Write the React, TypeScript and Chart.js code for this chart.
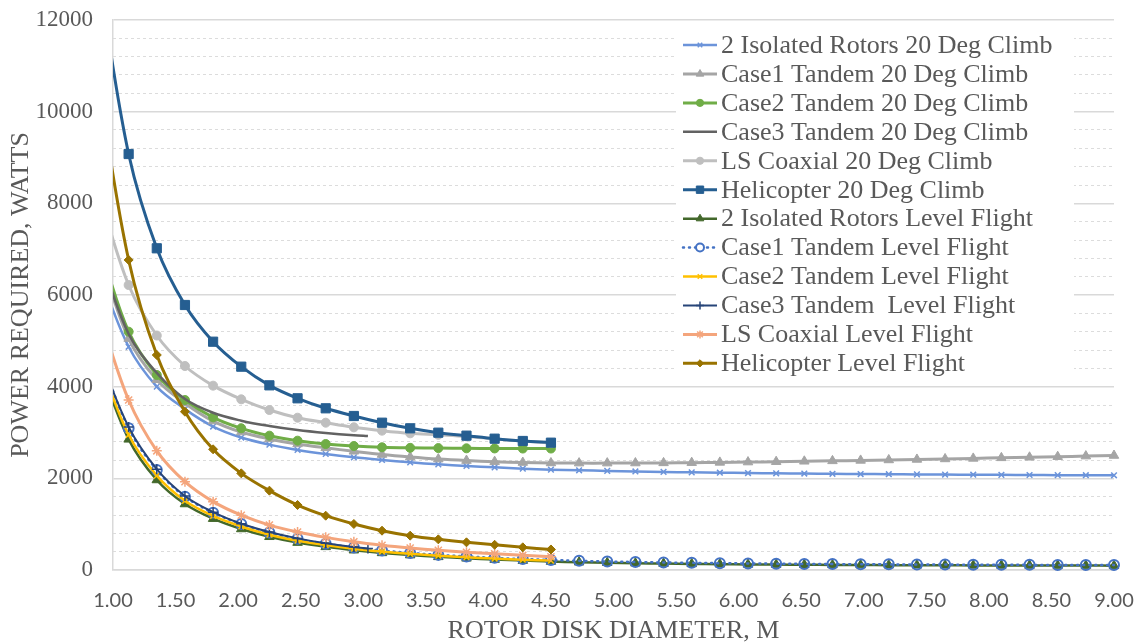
import React, { useEffect, useRef } from 'react';
import { Chart, registerables } from 'chart.js';
import { drawPoint } from 'chart.js/helpers';

Chart.register(...registerables);

// ---------- data ----------
const X_FULL = [0.9, 1.125, 1.35, 1.575, 1.8, 2.025, 2.25, 2.475, 2.7, 2.925, 3.15, 3.375, 3.6, 3.825, 4.05, 4.275, 4.5,
  4.725, 4.95, 5.175, 5.4, 5.625, 5.85, 6.075, 6.3, 6.525, 6.75, 6.975, 7.2, 7.425, 7.65, 7.875, 8.1, 8.325, 8.55, 8.775, 9.0];
const X_HALF = [0.9, 1.125, 1.35, 1.575, 1.8, 2.025, 2.25, 2.475, 2.7, 2.925, 3.15, 3.375, 3.6, 3.825, 4.05, 4.275, 4.5];
const X_CASE3 = [0.9, 1.125, 1.35, 1.575, 1.8, 2.025, 2.25, 2.475, 2.7, 2.925, 3.0375];

const ISO_CLIMB = [6400, 4870, 4000, 3510, 3130, 2890, 2735, 2620, 2531, 2458, 2400, 2349, 2305, 2269, 2240, 2211, 2189,
  2175, 2162, 2150, 2140, 2131, 2123, 2116, 2110, 2104, 2099, 2094, 2090, 2086, 2082, 2079, 2076, 2073, 2070, 2068, 2066];
const CASE1_CLIMB = [6800, 5050, 4150, 3640, 3250, 3010, 2860, 2750, 2665, 2590, 2520, 2465, 2420, 2388, 2364, 2345, 2335,
  2332, 2332, 2334, 2337, 2342, 2348, 2355, 2363, 2372, 2381, 2391, 2401, 2412, 2423, 2435, 2447, 2459, 2472, 2485, 2498];
const CASE2_CLIMB = [7000, 5200, 4255, 3709, 3331, 3091, 2931, 2822, 2749, 2705, 2677, 2665, 2660, 2655, 2652, 2650, 2650];
const CASE3_CLIMB = [6800, 5150, 4300, 3730, 3430, 3258, 3142, 3054, 2990, 2940, 2924];
const LS_CLIMB = [8100, 6218, 5116, 4451, 4022, 3724, 3491, 3323, 3214, 3113, 3040, 2982, 2950, 2915, 2860, 2812, 2772];
const HELI_CLIMB = [12700, 9076, 7019, 5782, 4981, 4436, 4029, 3746, 3528, 3360, 3214, 3091, 2996, 2931, 2865, 2815, 2778];

const ISO_LEVEL = [4400, 2851, 1964, 1440, 1120, 895, 725, 598, 505, 432, 373, 325, 287, 255, 228, 205, 185,
  170, 158, 148, 140, 133, 127, 122, 118, 114, 111, 108, 106, 104, 102, 100, 99, 98, 97, 96, 95];
const CASE1_LEVEL = [4650, 3091, 2182, 1600, 1251, 1004, 820, 680, 575, 490, 425, 372, 330, 295, 265, 240, 218,
  200, 186, 174, 164, 156, 149, 143, 138, 133, 129, 126, 123, 120, 118, 116, 114, 112, 111, 110, 109];
const CASE2_LEVEL = [4500, 2950, 2060, 1510, 1180, 950, 770, 640, 545, 465, 402, 352, 312, 278, 250, 225, 205];
const CASE3_LEVEL = [4600, 3120, 2200, 1615, 1262, 1010, 830, 690, 582, 500, 470];
const LS_LEVEL = [5500, 3709, 2600, 1927, 1491, 1195, 980, 830, 712, 615, 540, 480, 430, 388, 352, 320, 290];
const HELI_LEVEL = [10300, 6764, 4691, 3454, 2633, 2109, 1731, 1418, 1185, 1004, 858, 749, 669, 604, 550, 495, 448];

const LABELS = [
  '2 Isolated Rotors 20 Deg Climb',
  'Case1 Tandem 20 Deg Climb',
  'Case2 Tandem 20 Deg Climb',
  'Case3 Tandem 20 Deg Climb',
  'LS Coaxial 20 Deg Climb',
  'Helicopter 20 Deg Climb',
  '2 Isolated Rotors Level Flight',
  'Case1 Tandem Level Flight',
  'Case2 Tandem Level Flight',
  'Case3 Tandem  Level Flight',
  'LS Coaxial Level Flight',
  'Helicopter Level Flight',
];
const SERIES_X = [X_FULL, X_FULL, X_HALF, X_CASE3, X_HALF, X_HALF, X_FULL, X_FULL, X_HALF, X_CASE3, X_HALF, X_HALF];
const SERIES_Y = [ISO_CLIMB, CASE1_CLIMB, CASE2_CLIMB, CASE3_CLIMB, LS_CLIMB, HELI_CLIMB,
  ISO_LEVEL, CASE1_LEVEL, CASE2_LEVEL, CASE3_LEVEL, LS_LEVEL, HELI_LEVEL];

const X_MIN = 1, X_MAX = 9, X_STEP = 0.5;
const Y_MIN = 0, Y_MAX = 12000, Y_STEP = 2000, Y_MINOR = 400;

// ---------- styles ----------
type Sty = { color: string; point: any; r: number; fill: string; bw: number; lw: number; dash?: number[] };
const STYLES: Sty[] = [
  { color: '#6C94DA', point: 'crossRot', r: 4, fill: '#6C94DA', bw: 1.5, lw: 2.5 },
  { color: '#A5A5A5', point: 'triangle', r: 5.5, fill: '#A5A5A5', bw: 1, lw: 3 },
  { color: '#70AD47', point: 'circle', r: 4.5, fill: '#70AD47', bw: 1, lw: 3 },
  { color: '#626262', point: false, r: 0, fill: '#626262', bw: 0, lw: 2.5 },
  { color: '#BFBFBF', point: 'circle', r: 4.5, fill: '#BFBFBF', bw: 1, lw: 3 },
  { color: '#255E91', point: 'rect', r: 6.5, fill: '#255E91', bw: 1, lw: 3 },
  { color: '#43682B', point: 'triangle', r: 5.5, fill: '#43682B', bw: 1, lw: 2.5 },
  { color: '#4472C4', point: 'circle', r: 5, fill: 'rgba(0,0,0,0)', bw: 2, lw: 2.5, dash: [1, 5] },
  { color: '#FFC000', point: 'crossRot', r: 4, fill: '#FFC000', bw: 1.5, lw: 2.5 },
  { color: '#264478', point: 'cross', r: 5, fill: '#264478', bw: 1.5, lw: 2 },
  { color: '#F4A57C', point: 'star', r: 5, fill: '#F4A57C', bw: 1.5, lw: 3 },
  { color: '#997300', point: 'rectRot', r: 4.5, fill: '#997300', bw: 1, lw: 3 },
];

const TEXT = '#595959';
const SERIF = '"Liberation Serif", "Times New Roman", serif';

const legendPlugin = {
  id: 'boxLegend',
  afterDatasetsDraw(chart: any) {
    const ctx = chart.ctx as CanvasRenderingContext2D;
    const boxLeft = 676, boxTop = 24, boxRight = 1074, boxBottom = 383;
    ctx.save();
    ctx.fillStyle = '#ffffff';
    ctx.fillRect(boxLeft, boxTop, boxRight - boxLeft, boxBottom - boxTop);
    const rowH = 28.94;
    LABELS.forEach((label, i) => {
      const s = STYLES[i];
      const y = 45 + i * rowH;
      ctx.save();
      ctx.strokeStyle = s.color;
      ctx.lineWidth = s.lw;
      ctx.lineCap = s.dash ? 'round' : 'butt';
      ctx.setLineDash(s.dash || []);
      ctx.beginPath();
      ctx.moveTo(683, y);
      ctx.lineTo(717, y);
      ctx.stroke();
      ctx.setLineDash([]);
      if (s.point) {
        ctx.fillStyle = s.dash ? '#ffffff' : s.fill;
        ctx.strokeStyle = s.color;
        ctx.lineWidth = s.bw;
        drawPoint(ctx, { pointStyle: s.point, rotation: 0, radius: s.r * 0.8, borderWidth: s.bw }, 700, y);
      }
      ctx.restore();
      ctx.fillStyle = TEXT;
      ctx.font = '26px ' + SERIF;
      ctx.textBaseline = 'middle';
      ctx.textAlign = 'left';
      ctx.fillText(label, 721, y + 1);
    });
    ctx.restore();
  },
};

export default function App() {
  const ref = useRef<HTMLCanvasElement | null>(null);
  useEffect(() => {
    if (!ref.current) return;
    const datasets = LABELS.map((label, i) => {
      const s = STYLES[i];
      return {
        label,
        data: SERIES_X[i].map((x, k) => ({ x, y: SERIES_Y[i][k] })),
        showLine: true,
        borderColor: s.color,
        backgroundColor: s.fill,
        borderWidth: s.lw,
        borderDash: s.dash || [],
        borderCapStyle: s.dash ? 'round' : 'butt',
        tension: 0.35,
        pointStyle: s.point || 'circle',
        pointRadius: s.r,
        pointHoverRadius: s.r,
        pointBorderColor: s.color,
        pointBackgroundColor: s.fill,
        pointBorderWidth: s.bw,
        order: LABELS.length - i,
        clip: { left: 0, top: 0, right: 8, bottom: 8 },
      };
    });
    const chart = new Chart(ref.current, {
      type: 'scatter',
      data: { datasets: datasets as any },
      plugins: [legendPlugin],
      options: {
        animation: false,
        responsive: true,
        maintainAspectRatio: false,
        layout: { autoPadding: false, padding: { left: 0, top: 20, right: 26, bottom: 0 } },
        elements: { line: { capBezierPoints: false } },
        plugins: { legend: { display: false }, tooltip: { enabled: false } },
        scales: {
          x: {
            type: 'linear',
            min: X_MIN,
            max: X_MAX,
            afterBuildTicks: (scale: any) => {
              const t = [];
              for (let v = X_MIN; v <= X_MAX + 1e-9; v += X_STEP) t.push({ value: v });
              scale.ticks = t;
            },
            afterFit: (scale: any) => {
              scale.height = 73;
              scale.paddingLeft = 0;
              scale.paddingRight = 0;
            },
            grid: { display: false, drawTicks: false },
            border: { display: true, color: '#D9D9D9', width: 1.5 },
            ticks: {
              padding: 19,
              color: TEXT,
              font: { family: 'Lato, "Open Sans", sans-serif', size: 20 },
              callback: (v: any) => Number(v).toFixed(2),
              maxRotation: 0,
              autoSkip: false,
            },
            title: {
              display: true,
              text: 'ROTOR DISK DIAMETER, M',
              color: TEXT,
              font: { family: SERIF, size: 26 },
              padding: { top: 0, bottom: -4 },
            },
          },
          y2: {
            type: 'linear',
            position: 'right',
            min: Y_MIN,
            max: Y_MAX,
            afterFit: (scale: any) => {
              scale.width = 0;
              scale.paddingTop = 0;
              scale.paddingBottom = 0;
            },
            ticks: { display: false, stepSize: Y_MINOR },
            grid: {
              drawTicks: false,
              color: (c: any) => (c.tick && c.tick.value % Y_STEP === 0 ? 'rgba(0,0,0,0)' : '#DCDCDC'),
              lineWidth: 1,
            },
            border: { display: false, dash: [3, 3] },
          },
          y: {
            type: 'linear',
            position: 'left',
            min: Y_MIN,
            max: Y_MAX,
            afterFit: (scale: any) => {
              scale.width = 113;
              scale.paddingTop = 0;
              scale.paddingBottom = 0;
            },
            grid: { color: '#D9D9D9', lineWidth: 1.5, drawTicks: false },
            border: { display: true, color: '#D9D9D9', width: 1.5 },
            ticks: {
              stepSize: Y_STEP,
              padding: 20,
              color: TEXT,
              font: { family: SERIF, size: 23 },
              callback: (v: any) => String(v),
            },
            title: {
              display: true,
              text: 'POWER REQUIRED, WATTS',
              color: TEXT,
              font: { family: SERIF, size: 26 },
              padding: { top: 6, bottom: 0 },
            },
          },
        },
      } as any,
    });
    return () => chart.destroy();
  }, []);
  return (
    <div style={{ position: 'absolute', left: 0, top: 0, width: 1140, height: 643, background: '#fff' }}>
      <canvas ref={ref} />
    </div>
  );
}
